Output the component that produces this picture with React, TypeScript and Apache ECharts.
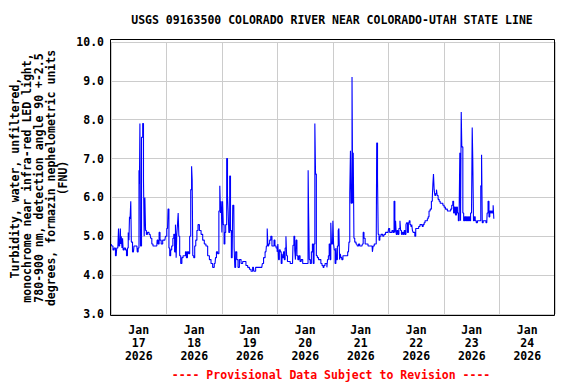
import React, { useEffect, useRef } from "react";
import * as echarts from "echarts";

// Hours since Jan 17 2026 00:00
const hours = [
  0.1, 0.6, 1.1, 1.6, 2.25, 2.7, 3.2, 3.3, 3.5, 4.0, 4.1, 4.3, 4.6, 4.9, 5.1, 5.4, 6.0, 6.5, 6.9, 7.3,
  7.6, 7.9, 8.1, 8.4, 8.7, 8.9, 9.7, 10.2, 11.2, 11.5, 12.0, 12.2, 12.4, 12.6, 12.9, 13.5, 13.9, 14.2, 14.5, 14.8,
  15.1, 15.5, 16.0, 16.9, 17.4, 17.9, 18.4, 19.8, 20.1, 20.6, 21.0, 21.4, 22.0, 22.7, 23.3, 23.8, 24.45, 24.9, 25.2, 25.6,
  26.0, 26.5, 27.0, 27.3, 27.7, 28.05, 28.3, 28.6, 28.9, 29.2, 29.5, 29.9, 30.4, 30.9, 31.4, 32.0, 32.4, 32.8, 33.3, 33.8,
  34.25, 34.7, 35.0, 35.2, 35.55, 36.0, 36.4, 36.9, 37.4, 37.85, 38.6, 39.3, 40.0, 40.7, 41.4, 42.2, 42.9, 43.6, 44.3, 45.0,
  45.4, 45.8, 46.4, 46.9, 47.2, 47.5, 47.8, 48.1, 48.4, 48.7, 49.1, 49.4, 49.8, 50.25, 50.5, 50.8, 51.1, 51.55, 51.8, 52.3,
  52.5, 52.8, 53.1, 53.4, 53.7, 54.1, 54.7, 55.15, 55.9, 56.6, 57.3, 58.0, 58.7, 59.5, 60.2, 60.9, 61.6, 62.0, 63.1, 64.5,
  65.2, 65.7, 66.25, 67.0, 67.4, 67.7, 68.0, 68.4, 68.8, 69.4, 69.8, 70.3, 70.7, 71.1, 71.7, 72.0, 72.3, 72.6, 73.0, 73.4,
  73.8, 74.1, 74.4, 74.8, 75.1, 75.5, 75.8, 76.1, 76.5, 78.5, 78.9, 79.3, 79.6, 79.9, 80.2, 80.6, 81.0, 81.5, 82.0, 82.5,
  83.3, 84.7, 85.2, 85.3, 85.6, 85.9, 86.4, 86.9, 87.3, 87.6, 88.0, 88.3, 88.6, 89.0, 89.5, 90.0, 90.5, 91.0, 91.5, 91.9,
  92.3, 92.8, 93.2, 93.5, 93.8, 94.2, 94.5, 94.9, 95.2, 95.5, 95.8, 96.1, 96.4, 96.7, 97.1, 97.4, 97.7, 98.1, 98.4, 98.7,
  99.0, 99.3, 99.6, 100.0, 100.6, 102.0, 102.7, 103.1, 103.4, 103.7, 104.0, 104.45, 104.6, 104.9, 105.2, 105.6, 106.3, 106.8, 107.3, 107.8,
  108.5, 108.9, 109.2, 109.6, 110.2, 110.8, 111.5, 112.1, 112.9, 113.2, 113.5, 114.2, 114.7, 115.1, 115.4, 115.7, 116.1, 116.4, 117.1, 117.9,
  118.4, 119.0, 119.8, 120.3, 120.7, 121.2, 121.8, 122.2, 122.6, 122.9, 123.2, 123.5, 123.9, 124.2, 124.8, 125.1, 125.4, 125.8, 126.2, 126.6,
  127.0, 127.4, 127.7, 128.0, 128.4, 128.8, 129.1, 129.5, 129.9, 130.2, 130.5, 130.8, 131.2, 131.55, 132.0, 132.3, 132.8, 133.3, 133.9, 134.4,
  134.8, 135.2, 135.6, 136.0, 136.6, 137.0, 137.3, 137.75, 138.3, 138.8, 139.1, 139.3, 139.6, 139.9, 140.2, 140.6, 140.9, 141.2, 141.7, 142.1,
  142.6, 143.2, 143.8, 144.3, 144.9, 145.2, 145.7, 146.2, 146.7, 147.1, 147.6, 148.0, 148.3, 148.7, 149.2, 149.6, 150.0, 150.4, 150.7, 151.0,
  151.3, 151.6, 151.8, 152.0, 152.3, 152.7, 153.2, 153.6, 153.9, 154.4, 154.8, 155.3, 155.7, 156.1, 156.3, 156.6, 156.9, 157.3, 157.7, 158.2,
  158.7, 159.2, 159.7, 160.1, 160.4, 160.7, 161.2, 161.8, 162.5, 162.8, 163.3, 163.6, 164.0, 164.4, 164.7, 165.1, 165.4, 165.7,
];

const turbidity = [
  4.8, 4.75, 4.65, 4.7, 4.5, 4.7, 4.7, 5.2, 4.75, 4.8, 5.2, 4.8, 5.0, 4.7, 4.95, 4.65, 4.7, 4.65, 4.5, 4.7,
  5.1, 4.9, 5.5, 5.45, 5.9, 4.85, 4.6, 4.75, 4.75, 4.6, 4.7, 6.7, 6.35, 7.9, 4.75, 7.55, 7.9, 6.45, 5.0, 6.0,
  5.15, 5.05, 5.1, 5.05, 4.95, 4.8, 4.75, 4.75, 4.9, 4.8, 5.1, 4.9, 4.8, 4.9, 4.9, 5.0, 5.2, 5.7, 4.7, 4.5,
  4.65, 4.75, 4.95, 5.05, 4.6, 5.3, 4.45, 5.05, 5.3, 5.6, 5.0, 4.5, 4.3, 4.45, 4.5, 4.5, 4.6, 4.45, 4.6, 4.55,
  5.0, 6.2, 6.8, 6.45, 4.5, 4.45, 4.75, 4.9, 5.15, 5.3, 5.15, 5.05, 4.9, 4.8, 4.75, 4.5, 4.4, 4.3, 4.2, 4.3,
  4.45, 4.6, 4.55, 5.65, 6.3, 5.6, 5.9, 5.1, 5.9, 5.3, 4.8, 5.1, 5.3, 7.0, 6.05, 5.65, 5.1, 6.55, 5.15, 4.45,
  4.55, 5.8, 5.8, 4.7, 4.2, 4.6, 4.4, 4.2, 4.4, 4.3, 4.35, 4.35, 4.25, 4.2, 4.15, 4.1, 4.2, 4.1, 4.2, 4.2,
  4.2, 4.3, 4.45, 4.6, 4.75, 5.2, 4.75, 4.8, 4.9, 5.0, 4.75, 4.75, 4.9, 4.75, 4.7, 4.6, 4.8, 4.4, 4.65, 4.6,
  4.3, 4.55, 4.45, 4.6, 4.4, 4.7, 5.0, 4.5, 4.35, 4.3, 4.77, 5.0, 4.65, 4.4, 4.9, 4.5, 4.4, 4.5, 4.35, 4.4,
  4.3, 4.3, 4.3, 6.7, 5.6, 4.4, 4.3, 4.6, 4.8, 4.3, 4.8, 7.9, 6.6, 4.5, 4.45, 4.4, 4.4, 4.3, 4.25, 4.2,
  4.25, 4.3, 4.3, 4.2, 4.4, 4.5, 4.8, 4.4, 5.35, 4.8, 4.8, 5.4, 4.8, 4.65, 4.3, 4.7, 4.4, 4.75, 5.15, 5.2,
  4.4, 4.55, 4.45, 4.4, 4.5, 4.5, 4.6, 4.85, 6.1, 7.2, 5.85, 9.1, 5.85, 7.15, 4.95, 4.85, 4.8, 4.75, 4.8, 4.75,
  4.75, 4.8, 5.1, 4.95, 4.8, 4.8, 4.75, 4.75, 4.75, 4.6, 4.75, 4.8, 4.8, 7.4, 6.5, 5.05, 4.9, 5.0, 5.05, 5.0,
  5.05, 5.1, 5.1, 5.2, 5.1, 5.1, 5.15, 5.1, 5.9, 5.1, 5.4, 5.05, 5.15, 5.05, 5.2, 5.4, 5.15, 5.05, 5.1, 5.05,
  5.15, 5.05, 5.3, 5.35, 5.1, 5.35, 5.4, 5.3, 5.25, 5.3, 5.15, 5.1, 5.1, 5.0, 5.2, 5.2, 5.2, 5.25, 5.3, 5.3,
  5.25, 5.3, 5.35, 5.4, 5.4, 5.45, 5.5, 5.65, 5.7, 5.9, 6.0, 6.35, 6.6, 6.2, 6.05, 6.1, 6.2, 6.05, 5.95, 5.9,
  5.85, 5.85, 5.8, 5.75, 5.7, 5.7, 5.65, 5.65, 5.65, 5.7, 5.8, 5.9, 5.6, 5.75, 5.55, 5.75, 5.6, 5.4, 5.65, 7.15,
  5.4, 8.2, 7.3, 7.3, 5.6, 5.4, 5.5, 5.4, 5.5, 5.4, 5.5, 5.4, 5.6, 5.6, 7.8, 6.95, 5.4, 5.5, 5.4, 5.35,
  5.4, 5.4, 5.4, 6.3, 7.1, 5.35, 5.4, 5.4, 5.35, 5.6, 5.9, 5.5, 5.65, 5.6, 5.65, 5.6, 5.8, 5.45,
];

const dayLabels = [
  "Jan\n17\n2026", "Jan\n18\n2026", "Jan\n19\n2026", "Jan\n20\n2026",
  "Jan\n21\n2026", "Jan\n22\n2026", "Jan\n23\n2026", "Jan\n24\n2026",
];

const titleText = "USGS 09163500 COLORADO RIVER NEAR COLORADO-UTAH STATE LINE";
const yAxisName =
  "Turbidity, water, unfiltered,\nmonochrome near infra-red LED light,\n780-900 nm, detection angle 90 +-2.5\ndegrees, formazin nephelometric units\n(FNU)";
const footerText = "---- Provisional Data Subject to Revision ----";

const FONT = '"DejaVu Sans Mono", "Liberation Mono", monospace';

export default function App() {
  const ref = useRef<HTMLDivElement>(null);
  useEffect(() => {
    if (!ref.current) return;
    const chart = echarts.init(ref.current, null, { renderer: "svg" });
    const data = hours.map((h, i) => [h, turbidity[i]]);
    chart.setOption({
      animation: false,
      backgroundColor: "#ffffff",
      grid: { left: 111, right: 21, top: 42, bottom: 70, containLabel: false },
      xAxis: [
        {
          type: "value",
          min: 0,
          max: 192,
          interval: 24,
          axisLine: { show: false },
          axisTick: { show: false },
          axisLabel: { show: false },
          splitLine: { show: true, lineStyle: { color: "#cccccc", width: 1 } },
        },
        {
          type: "value",
          min: 0,
          max: 192,
          interval: 12,
          position: "bottom",
          axisLine: { show: false },
          axisTick: { show: false },
          splitLine: { show: false },
          axisLabel: {
            show: true,
            margin: 9,
            color: "#000",
            fontFamily: FONT,
            fontWeight: "bold",
            fontSize: 11.5,
            lineHeight: 13,
            align: "center",
            formatter: (v: number) => {
              if (Math.round(v) % 24 !== 12) return "";
              const idx = Math.round((v - 12) / 24);
              return dayLabels[idx] ?? "";
            },
          },
        },
      ],
      yAxis: {
        type: "value",
        min: 3,
        max: 10,
        interval: 1,
        axisLine: { show: false },
        axisTick: { show: false },
        axisLabel: {
          margin: 7,
          color: "#000",
          fontFamily: FONT,
          fontWeight: "bold",
          fontSize: 11.5,
          formatter: (v: number) => v.toFixed(1),
        },
        splitLine: { show: true, lineStyle: { color: "#cccccc", width: 1 } },
      },
      series: [
        {
          type: "line",
          xAxisIndex: 0,
          data,
          step: "middle",
          showSymbol: false,
          symbol: "none",
          lineStyle: { color: "#0000ff", width: 1.1 },
          z: 5,
        },
      ],
      graphic: [
        {
          type: "rect",
          z: 100,
          silent: true,
          shape: { x: 110.5, y: 39.5, width: 444, height: 276 },
          style: { fill: "none", stroke: "#000000", lineWidth: 1 },
        },
        {
          type: "text",
          z: 100,
          x: 332,
          y: 20,
          style: {
            text: titleText,
            fill: "#000",
            font: `bold 11.5px ${FONT}`,
            align: "center",
            verticalAlign: "middle",
            textAlign: "center",
            textVerticalAlign: "middle",
          },
        },
        {
          type: "text",
          z: 100,
          x: 39,
          y: 178,
          rotation: Math.PI / 2,
          style: {
            text: yAxisName,
            fill: "#000",
            font: `bold 11.5px ${FONT}`,
            lineHeight: 12,
            align: "center",
            verticalAlign: "middle",
            textAlign: "center",
            textVerticalAlign: "middle",
          },
        },
        {
          type: "text",
          z: 100,
          x: 331,
          y: 375,
          style: {
            text: footerText,
            fill: "#ff0000",
            font: `bold 11.5px ${FONT}`,
            align: "center",
            verticalAlign: "middle",
            textAlign: "center",
            textVerticalAlign: "middle",
          },
        },
      ],
    });
    return () => chart.dispose();
  }, []);
  return (
    <div
      ref={ref}
      style={{ position: "absolute", left: 0, top: 0, width: 576, height: 384, background: "#fff" }}
    />
  );
}
